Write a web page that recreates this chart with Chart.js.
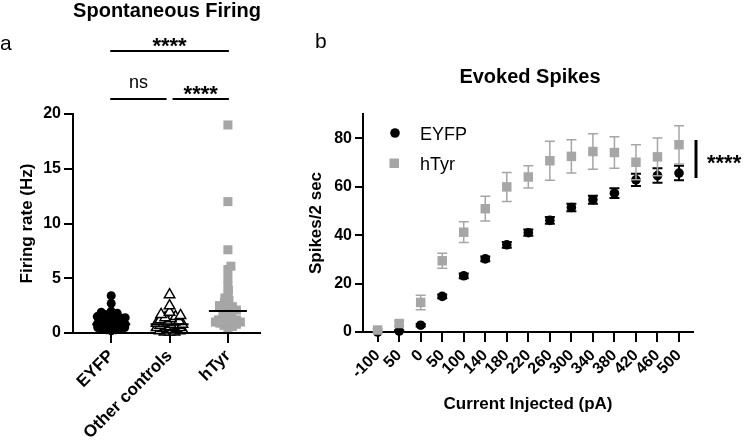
<!DOCTYPE html>
<html>
<head>
<meta charset="utf-8">
<script src="https://cdn.jsdelivr.net/npm/chart.js@4"></script>
<style>
  html, body { margin: 0; padding: 0; background: #fff; }
  #wrap { position: relative; width: 747px; height: 446px; }
  .panel { position: absolute; top: 0; height: 446px; }
</style>
</head>
<body>
<div id="wrap">
  <div class="panel" style="left:0;width:290px"><canvas id="chartA"></canvas></div>
  <div class="panel" style="left:290px;width:457px"><canvas id="chartB"></canvas></div>
</div>
<script>
// Panel a: spontaneous firing rate per cell (Hz)
const groups = ['EYFP', 'Other controls', 'hTyr'];
const eyfpRate = [3.4, 2.7, 2.0, 1.9, 1.8, 1.7, 1.6, 1.5, 1.5, 1.4, 1.4, 1.3, 1.3, 1.2, 1.2, 1.1, 1.1,
  1.0, 1.0, 0.9, 0.9, 0.9, 0.8, 0.8, 0.8, 0.7, 0.7, 0.7, 0.6, 0.6, 0.5, 0.5, 0.4, 0.4, 0.3, 0.3, 0.2];
const otherRate = [3.5, 2.5, 1.9, 1.7, 1.6, 1.5, 1.4, 1.3, 1.2, 1.1, 1.0, 1.0, 0.9, 0.9, 0.8, 0.8,
  0.7, 0.7, 0.6, 0.6, 0.5, 0.5, 0.5, 0.4, 0.4, 0.3, 0.3, 0.3, 0.2, 0.2, 0.1, 0.1, 0.1];
const htyrRate = [19, 12, 7.6, 6.1, 5.8, 5.0, 4.3, 3.9, 3.5, 3.2, 3.0, 2.8, 2.6, 2.5, 2.4, 2.3, 2.2,
  2.1, 2.0, 1.9, 1.8, 1.6, 1.5, 1.3, 1.2, 1.2, 1.1, 1.1, 1.0, 1.0, 0.9, 0.9, 0.8, 0.7, 0.6, 0.5];
const medianRate = [0.8, 0.8, 2.0];
const rateTicks = [0, 5, 10, 15, 20];

// Panel b: evoked spikes per current step (mean and SEM)
const currentLabels = ['-100', '50', '0', '50', '100', '140', '180', '220', '260', '300',
  '340', '380', '420', '460', '500'];
const eyfpSpikes = [0, 0.4, 2.8, 14.7, 23.2, 30.2, 36.0, 41.0, 46.1, 51.4, 54.6, 57.3, 62.8, 64.6, 65.6];
const eyfpSem = [0, 0.3, 0.5, 0.8, 1.0, 1.0, 1.2, 1.3, 1.4, 1.5, 1.7, 2.0, 2.5, 3.0, 3.0];
const htyrSpikes = [0.8, 3.5, 12.2, 29.4, 41.2, 50.9, 59.9, 64.0, 70.7, 72.5, 74.5, 74.1, 70.1, 72.3, 77.3];
const htyrSem = [0.5, 1.0, 3.0, 3.1, 4.3, 5.1, 6.0, 4.6, 8.0, 6.9, 7.3, 6.5, 7.2, 7.8, 7.9];
const spikeTicks = [0, 20, 40, 60, 80];

const GREY = '#a6a6a6';
Chart.defaults.font.family = '"Liberation Sans", Arial, sans-serif';
Chart.defaults.color = '#000';

// spread points sideways (beeswarm) inside a limited width;
// when the column is full the points overlap, as in the original plot
function swarmData(values, center, gap, half) {
  const yPx = 219 / 20, xPx = 58.5;
  const placed = [];
  return values.slice().sort((a, b) => a - b).map(v => {
    const y = v * yPx;
    let best = 0, bestDist = -1;
    for (let k = 0; k <= half * 4; k++) {
      const c = (k % 2 ? 1 : -1) * Math.ceil(k / 2) * 0.5;
      const d = placed.length ? Math.min(...placed.map(p => Math.hypot(p.x - c, p.y - y))) : Infinity;
      if (d >= gap) { best = c; bestDist = d; break; }
      if (d > bestDist) { best = c; bestDist = d; }
    }
    placed.push({ x: best, y: y });
    return { x: center + best / xPx, y: v };
  });
}

function axisStyle(tickLen) {
  return {
    grid: { drawOnChartArea: false, color: '#000', lineWidth: 2, tickLength: tickLen },
    border: { color: '#000', width: 2 }
  };
}

function text(ctx, str, x, y, font, align) {
  ctx.font = font;
  ctx.textAlign = align || 'center';
  ctx.textBaseline = 'alphabetic';
  ctx.fillStyle = '#000';
  ctx.fillText(str, x, y);
}

function hline(ctx, x1, x2, y, w) {
  ctx.beginPath();
  ctx.lineWidth = w;
  ctx.strokeStyle = '#000';
  ctx.moveTo(x1, y);
  ctx.lineTo(x2, y);
  ctx.stroke();
}

const FONT = '"Liberation Sans", Arial, sans-serif';

const panelA = {
  id: 'panelA',
  afterDatasetsDraw(chart) {
    const ctx = chart.ctx, xs = chart.scales.x, ys = chart.scales.y;
    ctx.save();
    medianRate.forEach((m, i) => {
      const x = xs.getPixelForValue(i + 1);
      hline(ctx, x - 19, x + 19, ys.getPixelForValue(m), 2);
    });
    ctx.restore();
  },
  afterDraw(chart) {
    const ctx = chart.ctx, xs = chart.scales.x;
    const x1 = xs.getPixelForValue(1), x2 = xs.getPixelForValue(2), x3 = xs.getPixelForValue(3);
    ctx.save();
    text(ctx, 'Spontaneous Firing', 167, 17, 'bold 20px ' + FONT);
    text(ctx, 'a', 0, 50, '21px ' + FONT, 'left');
    hline(ctx, x1 - 1, x3 + 1, 51, 2);
    text(ctx, '****', (x1 + x3) / 2, 53, 'bold 22px ' + FONT);
    hline(ctx, x1 - 1, x2 - 3, 99, 2);
    text(ctx, 'ns', (x1 + x2) / 2 - 2, 88, '18px ' + FONT);
    hline(ctx, x2 + 3, x3 + 1, 99, 2);
    text(ctx, '****', (x2 + x3) / 2 + 2, 101, 'bold 22px ' + FONT);
    ctx.restore();
  }
};

new Chart(document.getElementById('chartA'), {
  type: 'scatter',
  data: {
    datasets: [
      { label: 'EYFP', data: swarmData(eyfpRate, 1, 4.5, 14), pointStyle: 'circle', pointRadius: 4.5,
        backgroundColor: '#000', borderColor: '#000', borderWidth: 0, clip: false },
      { label: 'Other controls', data: swarmData(otherRate, 2, 5, 13), pointStyle: 'triangle', pointRadius: 6,
        backgroundColor: '#fff', borderColor: '#000', borderWidth: 1.5, clip: false },
      { label: 'hTyr', data: swarmData(htyrRate, 3, 4.4, 15), pointStyle: 'rect', pointRadius: 6.4,
        backgroundColor: GREY, borderColor: GREY, borderWidth: 0, clip: false }
    ]
  },
  options: {
    responsive: true, maintainAspectRatio: false, animation: false,
    layout: { padding: { left: 13, right: 30, top: 114, bottom: 0 } },
    plugins: { legend: { display: false }, tooltip: { enabled: false } },
    elements: { point: { hoverRadius: 0 } },
    scales: {
      x: Object.assign(axisStyle(10), {
        type: 'linear', min: 0.345, max: 3.55,
        afterBuildTicks: s => { s.ticks = [1, 2, 3].map(v => ({ value: v })); },
        afterFit: s => { s.height = 113; },
        ticks: { callback: v => groups[v - 1], minRotation: 45, maxRotation: 45, padding: 3,
          autoSkip: false, font: { size: 17, weight: 'bold' } }
      }),
      y: Object.assign(axisStyle(9), {
        min: 0, max: 20,
        afterBuildTicks: s => { s.ticks = rateTicks.map(v => ({ value: v })); },
        afterFit: s => { s.width = 60; },
        ticks: { padding: 3, font: { size: 16, weight: 'bold' } },
        title: { display: true, text: 'Firing rate (Hz)', font: { size: 17, weight: 'bold' },
          padding: { top: 4, bottom: 4 } }
      })
    }
  },
  plugins: [panelA]
});

const errorBars = {
  id: 'errorBars',
  beforeDatasetDraw(chart, args) {
    const ds = chart.data.datasets[args.index];
    const ctx = chart.ctx, xs = chart.scales.x, ys = chart.scales.y;
    ctx.save();
    ctx.strokeStyle = ds.barColor;
    ctx.lineWidth = ds.barWidth;
    ds.data.forEach((p, i) => {
      const e = ds.sem[i];
      if (!e) return;
      const x = xs.getPixelForValue(p.x);
      const yt = ys.getPixelForValue(p.y + e), yb = ys.getPixelForValue(p.y - e);
      ctx.beginPath();
      ctx.moveTo(x, yt); ctx.lineTo(x, yb);
      ctx.moveTo(x - 5, yt); ctx.lineTo(x + 5, yt);
      ctx.moveTo(x - 5, yb); ctx.lineTo(x + 5, yb);
      ctx.stroke();
    });
    ctx.restore();
  }
};

const panelB = {
  id: 'panelB',
  afterDraw(chart) {
    const ctx = chart.ctx;
    ctx.save();
    text(ctx, 'b', 25, 48, '21px ' + FONT, 'left');
    text(ctx, 'Evoked Spikes', 240, 83, 'bold 20px ' + FONT);
    // legend
    ctx.fillStyle = '#000';
    ctx.beginPath(); ctx.arc(105, 133, 4.8, 0, Math.PI * 2); ctx.fill();
    ctx.fillStyle = GREY;
    ctx.fillRect(99.5, 158.5, 9.5, 9.5);
    text(ctx, 'EYFP', 130, 140, '18px ' + FONT, 'left');
    text(ctx, 'hTyr', 130, 170, '18px ' + FONT, 'left');
    // significance bar
    ctx.beginPath();
    ctx.lineWidth = 3;
    ctx.strokeStyle = '#000';
    ctx.moveTo(406, 140); ctx.lineTo(406, 178);
    ctx.stroke();
    text(ctx, '****', 417, 170, 'bold 22px ' + FONT, 'left');
    ctx.restore();
  }
};

new Chart(document.getElementById('chartB'), {
  type: 'scatter',
  data: {
    datasets: [
      { label: 'hTyr', data: htyrSpikes.map((v, i) => ({ x: i, y: v })), sem: htyrSem,
        barColor: GREY, barWidth: 1.5, pointStyle: 'rect', pointRadius: 6.7,
        backgroundColor: GREY, borderColor: GREY, borderWidth: 0, clip: false },
      { label: 'EYFP', data: eyfpSpikes.map((v, i) => ({ x: i, y: v })), sem: eyfpSem,
        barColor: '#000', barWidth: 2, pointStyle: 'circle', pointRadius: 4.8,
        backgroundColor: '#000', borderColor: '#000', borderWidth: 0, clip: false }
    ]
  },
  options: {
    responsive: true, maintainAspectRatio: false, animation: false,
    layout: { padding: { left: 12, right: 54, top: 114, bottom: 27 } },
    plugins: { legend: { display: false }, tooltip: { enabled: false } },
    elements: { point: { hoverRadius: 0 } },
    scales: {
      x: Object.assign(axisStyle(10), {
        type: 'linear', min: -0.68, max: 14.65,
        afterBuildTicks: s => { s.ticks = currentLabels.map((l, i) => ({ value: i })); },
        afterFit: s => { s.height = 87; },
        ticks: { callback: v => currentLabels[v], minRotation: 45, maxRotation: 45, padding: 4,
          autoSkip: false, font: { size: 16, weight: 'bold' } },
        title: { display: true, text: 'Current Injected (pA)', font: { size: 17, weight: 'bold' },
          padding: { top: 4, bottom: 4 } }
      }),
      y: Object.assign(axisStyle(8), {
        min: 0, max: 90,
        afterBuildTicks: s => { s.ticks = spikeTicks.map(v => ({ value: v })); },
        afterFit: s => { s.width = 61; },
        ticks: { padding: 3, font: { size: 16, weight: 'bold' } },
        title: { display: true, text: 'Spikes/2 sec', font: { size: 17, weight: 'bold' },
          padding: { top: 4, bottom: 4 } }
      })
    }
  },
  plugins: [errorBars, panelB]
});
</script>
</body>
</html>
